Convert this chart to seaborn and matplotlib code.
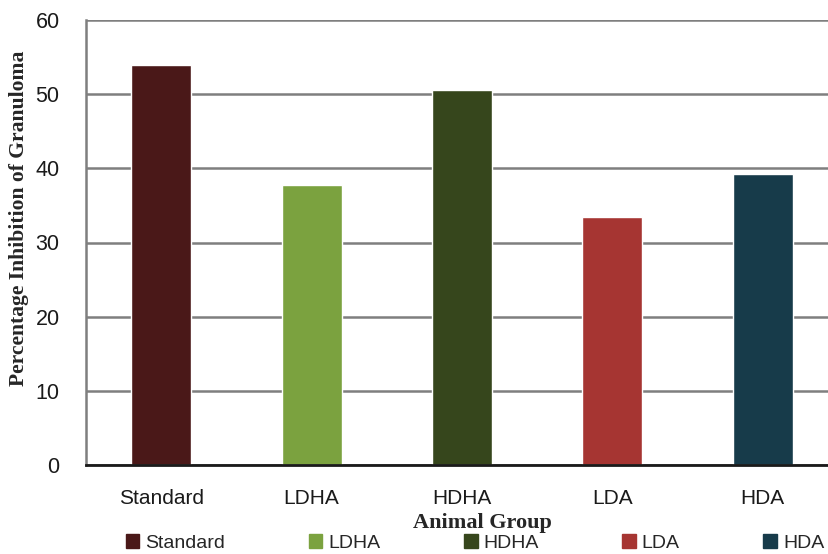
import matplotlib
matplotlib.use("Agg")
import matplotlib.pyplot as plt
import seaborn as sns
import pandas as pd
from matplotlib.patches import Patch

categories = ["Standard", "LDHA", "HDHA", "LDA", "HDA"]
values = [53.9, 37.8, 50.5, 33.4, 39.3]
colors = ["#4A1818", "#7BA23F", "#36461C", "#A63532", "#173B4A"]
yticks = [0, 10, 20, 30, 40, 50, 60]

df = pd.DataFrame({"group": categories, "value": values})

sns.set_style("white")
plt.rcParams['font.family'] = ['Liberation Sans', 'DejaVu Sans']

fig = plt.figure(figsize=(8.29, 5.54), dpi=100)
ax = fig.add_axes([86/829, 1-465/554, (838-86)/829, (465-20)/554])

sns.barplot(data=df, x="group", y="value", hue="group", palette=colors,
            order=categories, hue_order=categories, width=0.4, legend=False,
            ax=ax, saturation=1)

ax.set_ylim(0, 60)
ax.set_xlim(-0.5, 4.5)
ax.set_yticks(yticks)
ax.yaxis.grid(True, color="#7f7f7f", linewidth=1.8)
ax.set_axisbelow(True)
for s in ["top", "right"]:
    ax.spines[s].set_visible(False)
ax.spines["left"].set_color("#7f7f7f")
ax.spines["left"].set_linewidth(1.8)
ax.spines["bottom"].set_color("#1a1a1a")
ax.spines["bottom"].set_linewidth(2)
ax.tick_params(axis="y", length=7, width=1.8, color="#7f7f7f", pad=12, labelsize=15.5, labelcolor="#1a1a1a")
ax.tick_params(axis="x", length=0, pad=17, labelsize=15, labelcolor="#1a1a1a")

ax.set_xlabel("Animal Group", fontfamily="Liberation Serif", fontweight="bold", fontsize=16)
ax.xaxis.set_label_coords((482-86)/752, -(513-465)/445, transform=ax.transAxes)
ax.set_ylabel("Percentage Inhibition of Granuloma", fontfamily="Liberation Serif", fontweight="bold", fontsize=15.6)
ax.yaxis.set_label_coords(-(86-29)/752, (465-218)/445)

handles = [Patch(facecolor=c, edgecolor=c, label=l) for c, l in zip(colors, categories)]
fig.legend(handles=handles, loc="center", bbox_to_anchor=(475/829, 1-543/554), ncol=5,
           frameon=False, fontsize=14, handlelength=0.7, handleheight=0.7,
           handletextpad=0.3, columnspacing=4.3)

fig.savefig("out.png", dpi=100)
